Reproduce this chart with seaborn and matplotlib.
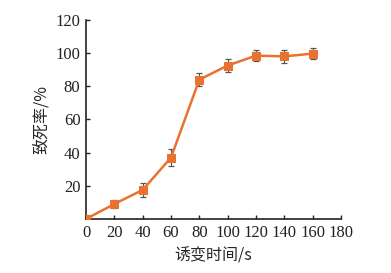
import matplotlib
matplotlib.use("Agg")
import matplotlib.pyplot as plt
import seaborn as sns
import pandas as pd

time_s = [0, 20, 40, 60, 80, 100, 120, 140, 160]
mortality = [0, 9, 17.5, 37, 84, 92.5, 98.5, 98, 99.7]
err = [0.5, 2.7, 4, 5, 3.8, 4, 3.3, 4, 3.3]
x_ticks = [0, 20, 40, 60, 80, 100, 120, 140, 160, 180]
y_ticks = [20, 40, 60, 80, 100, 120]

sns.set_style("ticks")
plt.rcParams['font.family'] = ['Liberation Serif', 'Noto Sans CJK SC']

df = pd.DataFrame({"t": time_s, "m": mortality})
fig = plt.figure(figsize=(3.91, 2.73), dpi=100)
ax = fig.add_axes([0.22, 0.198, 0.652, 0.729])

color = "#E8722E"
ax.errorbar(time_s, mortality, yerr=err, fmt="none", ecolor="#555555",
            elinewidth=0.8, capsize=2.5, capthick=0.9, zorder=2)
sns.lineplot(data=df, x="t", y="m", ax=ax, color=color, linewidth=1.8,
             marker="s", markersize=6.3, markeredgecolor=color, zorder=3)

ax.set_xlim(0, 180)
ax.set_ylim(0, 120)
ax.set_xticks(x_ticks)
ax.set_yticks(y_ticks)
ax.tick_params(direction="in", length=3, width=1, labelsize=12, pad=4, colors="#222222")
for s in ["top", "right"]:
    ax.spines[s].set_visible(False)
for s in ["left", "bottom"]:
    ax.spines[s].set_linewidth(1.2)
    ax.spines[s].set_color("#222222")
ax.set_xlabel("诱变时间/s", fontsize=11.5, labelpad=5,
              family=['Noto Sans CJK SC', 'Liberation Serif'])
ax.set_ylabel("致死率/%", fontsize=11.5, labelpad=4,
              family=['Noto Sans CJK SC', 'Liberation Serif'])
for lab in ax.get_xticklabels() + ax.get_yticklabels():
    lab.set_fontfamily('Liberation Serif')

fig.savefig("out.png", dpi=100)
